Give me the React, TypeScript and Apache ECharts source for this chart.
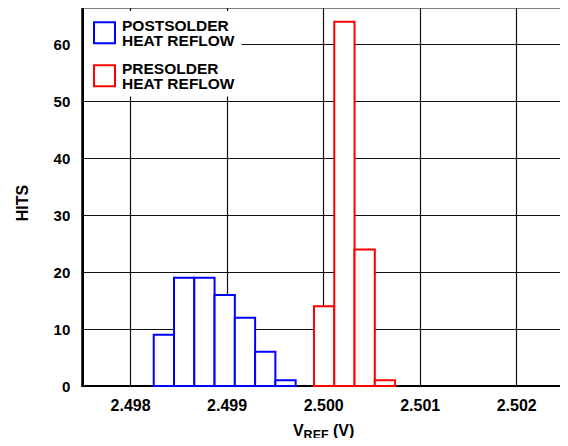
import React, { useEffect, useRef } from "react";
import * as echarts from "echarts";

// Histogram bin edges (V) and hit counts
const postEdges = [2.49824, 2.49845, 2.49866, 2.49887, 2.49908, 2.49929, 2.4995, 2.49971];
const postHits = [9, 19, 19, 16, 12, 6, 1];
const preEdges = [2.4999, 2.50011, 2.50032, 2.50053, 2.50074];
const preHits = [14, 64, 24, 1];

const postName = "POSTSOLDER HEAT REFLOW";
const preName = "PRESOLDER HEAT REFLOW";

const FONT = "'Liberation Sans', Arial, Helvetica, sans-serif";

function toBins(edges: number[], hits: number[]) {
  return hits.map((h, i) => [edges[i], edges[i + 1], h]);
}

function makeRender(color: string) {
  return (params: any, api: any) => {
    const p0 = api.coord([api.value(0), api.value(2)]);
    const p1 = api.coord([api.value(1), 0]);
    return {
      type: "rect",
      shape: { x: p0[0], y: p0[1], width: p1[0] - p0[0], height: p1[1] - p0[1] },
      style: { fill: "#ffffff", stroke: color, lineWidth: 2 },
    };
  };
}

export default function App() {
  const ref = useRef<HTMLDivElement>(null);
  useEffect(() => {
    if (!ref.current) return;
    const chart = echarts.init(ref.current, null, { renderer: "svg" });
    chart.setOption({
      animation: false,
      backgroundColor: "#ffffff",
      textStyle: { fontFamily: FONT },
      grid: {
        left: 82.3,
        right: 1.3,
        top: 7.5,
        bottom: 56,
        show: true,
        borderColor: "#000",
        borderWidth: 2,
        backgroundColor: "transparent",
      },
      xAxis: {
        type: "value",
        min: 2.4975,
        max: 2.5025,
        splitNumber: 5,
        axisLine: { show: true, lineStyle: { color: "#000", width: 2 } },
        axisTick: { show: false },
        splitLine: { show: true, lineStyle: { color: "#111", width: 1.2 } },
        axisLabel: {
          margin: 11,
          color: "#000",
          fontSize: 16,
          fontWeight: "bold",
          fontFamily: FONT,
          formatter: (v: number) =>
            Math.abs(v * 1000 - Math.round(v * 1000)) < 1e-6 ? v.toFixed(3) : "",
        },
        name: "{v|V}{sub|REF}{v| (V)}",
        nameLocation: "middle",
        nameGap: 33,
        nameTextStyle: {
          rich: {
            v: { fontSize: 16, fontWeight: "bold", fontFamily: FONT, color: "#000", lineHeight: 22, verticalAlign: "middle" },
            sub: { fontSize: 12.5, fontWeight: "bold", fontFamily: FONT, color: "#000", lineHeight: 22, verticalAlign: "bottom" },
          },
        },
      },
      yAxis: {
        type: "value",
        min: 0,
        max: 66.5,
        interval: 10,
        axisLine: { show: true, lineStyle: { color: "#000", width: 2 } },
        axisTick: { show: false },
        splitLine: { show: true, lineStyle: { color: "#111", width: 1.2 } },
        axisLabel: {
          margin: 12,
          color: "#000",
          fontSize: 15,
          fontWeight: "bold",
          fontFamily: FONT,
          showMaxLabel: false,
          formatter: (v: number) => (Math.abs(v % 10) < 1e-6 ? String(v) : ""),
        },
      },
      legend: {
        orient: "vertical",
        left: 84,
        top: 11,
        padding: [6, 7, 5, 9],
        itemGap: 11.5,
        itemWidth: 21,
        itemHeight: 21,
        backgroundColor: "#ffffff",
        selectedMode: false,
        formatter: (name: string) => name.replace(" ", "\n"),
        textStyle: { fontSize: 15.5, fontWeight: "bold", fontFamily: FONT, color: "#000", lineHeight: 15.5, padding: [0, 0, 0, 2] },
        data: [
          { name: postName, icon: "rect", itemStyle: { color: "#fff", borderColor: "#0000ff", borderWidth: 2 } },
          { name: preName, icon: "rect", itemStyle: { color: "#fff", borderColor: "#ff0000", borderWidth: 2 } },
        ],
      },
      graphic: [
        {
          type: "text",
          x: 22.5,
          y: 203,
          rotation: Math.PI / 2,
          style: {
            text: "HITS",
            align: "center",
            verticalAlign: "middle",
            fontSize: 16,
            fontWeight: "bold",
            fontFamily: FONT,
            fill: "#000",
          },
        },
      ],
      series: [
        {
          name: postName,
          type: "custom",
          renderItem: makeRender("#0000ff"),
          encode: { x: [0, 1], y: 2 },
          itemStyle: { color: "#fff", borderColor: "#0000ff" },
          data: toBins(postEdges, postHits),
        },
        {
          name: preName,
          type: "custom",
          renderItem: makeRender("#ff0000"),
          encode: { x: [0, 1], y: 2 },
          itemStyle: { color: "#fff", borderColor: "#ff0000" },
          data: toBins(preEdges, preHits),
        },
      ],
    });
    return () => chart.dispose();
  }, []);
  return <div ref={ref} style={{ width: 568, height: 446, margin: -8 }} />;
}
